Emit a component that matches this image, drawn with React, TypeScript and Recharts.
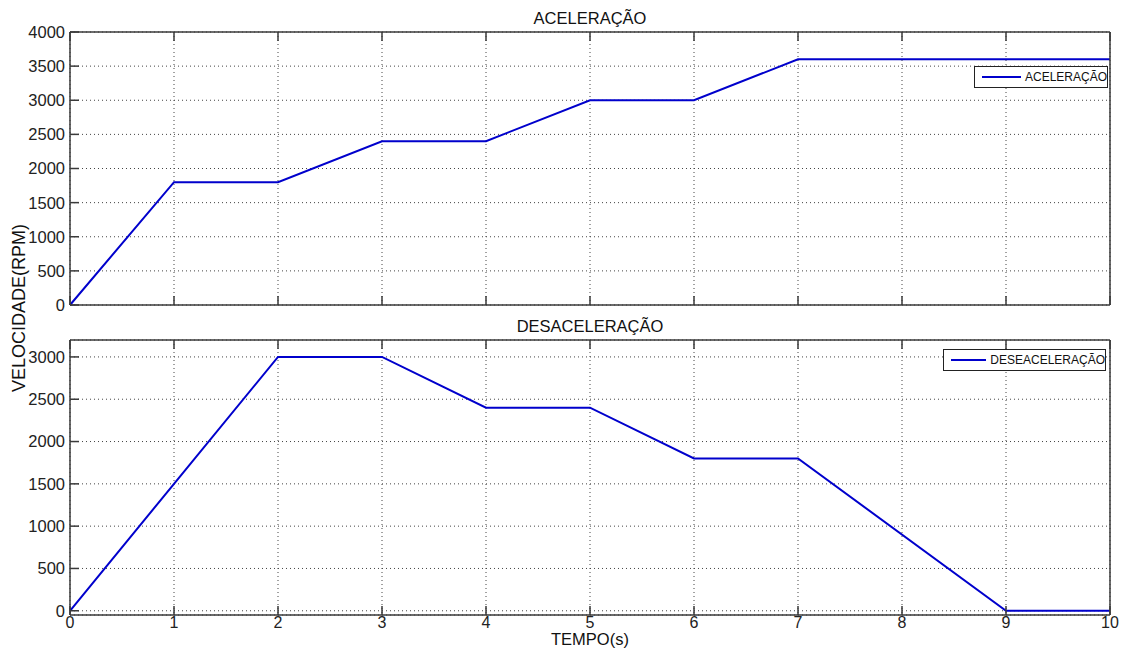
import React from "react";
import { LineChart, Line, XAxis, YAxis, CartesianGrid } from "recharts";

const timeTicks = [0, 1, 2, 3, 4, 5, 6, 7, 8, 9, 10];
const accelTicks = [0, 500, 1000, 1500, 2000, 2500, 3000, 3500, 4000];
const decelTicks = [0, 500, 1000, 1500, 2000, 2500, 3000];

const accelTime = [0, 1, 2, 3, 4, 5, 6, 7, 10];
const accelRpm = [0, 1800, 1800, 2400, 2400, 3000, 3000, 3600, 3600];

const decelTime = [0, 1, 2, 3, 4, 5, 6, 7, 9, 10];
const decelRpm = [0, 1500, 3000, 3000, 2400, 2400, 1800, 1800, 0, 0];

const accelData = accelTime.map((t, i) => ({ t, v: accelRpm[i] }));
const decelData = decelTime.map((t, i) => ({ t, v: decelRpm[i] }));

const FONT = "'Liberation Sans', Arial, sans-serif";
const NARROW = "'Liberation Sans Narrow', 'Liberation Sans', Arial, sans-serif";
const FRAME = "#3a3a3a";
const LINE = "#0000CC";
const WIDTH = 1128;
const PLOT_LEFT = 70;
const PLOT_RIGHT = 1110;
const TICK_LEN = 9;
const AX = 1; // thickness reserved by the edge axes

const makeXTick = (lineY: number, dir: number, label: boolean) => (props: any) => {
  const { x, payload } = props;
  return (
    <g>
      <line x1={x} x2={x} y1={lineY} y2={lineY + dir * TICK_LEN} stroke={FRAME} strokeWidth={1.5} />
      {label && (
        <text x={x} y={lineY + 13} textAnchor="middle" fontFamily={FONT} fontSize={16} fill="#222">
          {payload.value}
        </text>
      )}
    </g>
  );
};

const makeYTick = (lineX: number, dir: number, label: boolean) => (props: any) => {
  const { y, payload } = props;
  return (
    <g>
      <line x1={lineX} x2={lineX + dir * TICK_LEN} y1={y} y2={y} stroke={FRAME} strokeWidth={1.5} />
      {label && (
        <text x={lineX - 5} y={y} dy="0.36em" textAnchor="end" fontFamily={FONT} fontSize={16.5} fill="#222">
          {payload.value}
        </text>
      )}
    </g>
  );
};

function Panel(props: {
  data: { t: number; v: number }[];
  height: number;
  top: number;
  plotTop: number;
  plotBottom: number;
  yDomain: [number, number];
  yTicks: number[];
  showXLabels: boolean;
}) {
  const { data, height, top, plotTop, plotBottom, yDomain, yTicks, showXLabels } = props;
  return (
    <div style={{ position: "absolute", left: 0, top }}>
      <LineChart
        width={WIDTH}
        height={height}
        data={data}
        margin={{
          top: plotTop - AX,
          right: WIDTH - PLOT_RIGHT - AX,
          bottom: height - plotBottom - AX,
          left: 0,
        }}
        style={{ overflow: "visible" }}
      >
        <CartesianGrid stroke="#444" strokeDasharray="1 3" strokeWidth={1} />
        <XAxis
          dataKey="t"
          type="number"
          domain={[0, 10]}
          ticks={timeTicks}
          height={AX}
          tickSize={0}
          tickMargin={0}
          axisLine={{ stroke: FRAME, strokeWidth: 1.5 }}
          tick={makeXTick(plotBottom, -1, showXLabels)}
          interval={0}
        />
        <XAxis
          xAxisId="top"
          dataKey="t"
          type="number"
          orientation="top"
          domain={[0, 10]}
          ticks={timeTicks}
          height={AX}
          tickSize={0}
          tickMargin={0}
          axisLine={{ stroke: FRAME, strokeWidth: 1.5 }}
          tick={makeXTick(plotTop, 1, false)}
          interval={0}
        />
        <YAxis
          type="number"
          domain={yDomain}
          ticks={yTicks}
          width={PLOT_LEFT}
          tickSize={0}
          tickMargin={0}
          axisLine={{ stroke: FRAME, strokeWidth: 1.5 }}
          tick={makeYTick(PLOT_LEFT, 1, true)}
          interval={0}
        />
        <YAxis
          yAxisId="right"
          orientation="right"
          type="number"
          domain={yDomain}
          ticks={yTicks}
          width={AX}
          tickSize={0}
          tickMargin={0}
          axisLine={{ stroke: FRAME, strokeWidth: 1.5 }}
          tick={makeYTick(PLOT_RIGHT, -1, false)}
          interval={0}
        />
        <Line
          dataKey="v"
          type="linear"
          stroke={LINE}
          strokeWidth={2}
          dot={false}
          isAnimationActive={false}
        />
      </LineChart>
    </div>
  );
}

function LegendBox(props: { left: number; top: number; width: number; label: string }) {
  const { left, top, width, label } = props;
  return (
    <div
      style={{
        position: "absolute",
        left,
        top,
        width,
        height: 22,
        border: "1px solid #222",
        background: "#fff",
        boxSizing: "border-box",
        display: "flex",
        alignItems: "center",
        fontFamily: NARROW,
        fontSize: 12,
        color: "#111",
      }}
    >
      <div style={{ width: 42, height: 2, background: LINE, marginLeft: 7, marginRight: 4 }} />
      <span>{label}</span>
    </div>
  );
}

const textStyle: React.CSSProperties = {
  position: "absolute",
  fontFamily: FONT,
  fontSize: 16.5,
  lineHeight: "19px",
  color: "#111",
  whiteSpace: "nowrap",
};

export default function App() {
  return (
    <div style={{ position: "absolute", left: 0, top: 0, width: WIDTH, height: 655, background: "#fff", overflow: "hidden" }}>
      <Panel
        data={accelData}
        height={320}
        top={0}
        plotTop={32}
        plotBottom={305}
        yDomain={[0, 4000]}
        yTicks={accelTicks}
        showXLabels={false}
      />
      <Panel
        data={decelData}
        height={340}
        top={315}
        plotTop={25}
        plotBottom={300}
        yDomain={[-50, 3200]}
        yTicks={decelTicks}
        showXLabels={true}
      />
      <div style={{ ...textStyle, left: 590, top: 9, transform: "translateX(-50%)" }}>ACELERAÇÃO</div>
      <div style={{ ...textStyle, left: 590, top: 317, transform: "translateX(-50%)" }}>DESACELERAÇÃO</div>
      <div style={{ ...textStyle, left: 590, top: 630, transform: "translateX(-50%)" }}>TEMPO(s)</div>
      <div
        style={{
          ...textStyle,
          fontSize: 18,
          left: 19,
          top: 308,
          transform: "translate(-50%, -50%) rotate(-90deg)",
        }}
      >
        VELOCIDADE(RPM)
      </div>
      <LegendBox left={974} top={66} width={134} label="ACELERAÇÃO" />
      <LegendBox left={943} top={349} width={163} label="DESEACELERAÇÃO" />
    </div>
  );
}
